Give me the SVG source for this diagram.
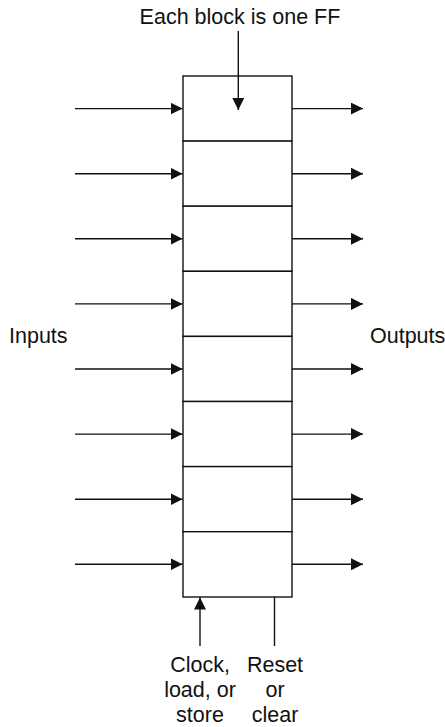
<svg xmlns="http://www.w3.org/2000/svg" width="445" height="727" viewBox="0 0 445 727">
<style>
text{font-family:"Liberation Sans",Arial,sans-serif;font-size:21.5px;fill:#111}
.ln{stroke:#111;stroke-width:1.4;fill:none}
.blk{fill:#fff;stroke:#111;stroke-width:1.4}
</style>
<defs>
<marker id="ah" markerUnits="userSpaceOnUse" markerWidth="13" markerHeight="12" refX="12" refY="6" orient="auto" viewBox="0 0 13 12">
<path d="M0,0 L12,6 L0,12 z" fill="#111"/>
</marker>
</defs>
<rect width="445" height="727" fill="#fff"/>
<g id="register">
<g id="ff1"><rect class="blk" x="183" y="76" width="109" height="65.1"/></g>
<g id="ff2"><rect class="blk" x="183" y="141.1" width="109" height="65.1"/></g>
<g id="ff3"><rect class="blk" x="183" y="206.2" width="109" height="65.1"/></g>
<g id="ff4"><rect class="blk" x="183" y="271.3" width="109" height="65.1"/></g>
<g id="ff5"><rect class="blk" x="183" y="336.4" width="109" height="65.1"/></g>
<g id="ff6"><rect class="blk" x="183" y="401.5" width="109" height="65.1"/></g>
<g id="ff7"><rect class="blk" x="183" y="466.6" width="109" height="65.1"/></g>
<g id="ff8"><rect class="blk" x="183" y="531.7" width="109" height="65.3"/></g>
</g>
<g id="connectors">
<line class="ln" x1="75" y1="108.6" x2="182.5" y2="108.6" marker-end="url(#ah)"/>
<line class="ln" x1="75" y1="173.7" x2="182.5" y2="173.7" marker-end="url(#ah)"/>
<line class="ln" x1="75" y1="238.8" x2="182.5" y2="238.8" marker-end="url(#ah)"/>
<line class="ln" x1="75" y1="303.9" x2="182.5" y2="303.9" marker-end="url(#ah)"/>
<line class="ln" x1="75" y1="369" x2="182.5" y2="369" marker-end="url(#ah)"/>
<line class="ln" x1="75" y1="434.1" x2="182.5" y2="434.1" marker-end="url(#ah)"/>
<line class="ln" x1="75" y1="499.2" x2="182.5" y2="499.2" marker-end="url(#ah)"/>
<line class="ln" x1="75" y1="564.3" x2="182.5" y2="564.3" marker-end="url(#ah)"/>
<line class="ln" x1="292" y1="108.6" x2="363" y2="108.6" marker-end="url(#ah)"/>
<line class="ln" x1="292" y1="173.7" x2="363" y2="173.7" marker-end="url(#ah)"/>
<line class="ln" x1="292" y1="238.8" x2="363" y2="238.8" marker-end="url(#ah)"/>
<line class="ln" x1="292" y1="303.9" x2="363" y2="303.9" marker-end="url(#ah)"/>
<line class="ln" x1="292" y1="369" x2="363" y2="369" marker-end="url(#ah)"/>
<line class="ln" x1="292" y1="434.1" x2="363" y2="434.1" marker-end="url(#ah)"/>
<line class="ln" x1="292" y1="499.2" x2="363" y2="499.2" marker-end="url(#ah)"/>
<line class="ln" x1="292" y1="564.3" x2="363" y2="564.3" marker-end="url(#ah)"/>
<line class="ln" x1="238.3" y1="31" x2="238.3" y2="110" marker-end="url(#ah)"/>
<line class="ln" x1="200" y1="646" x2="200" y2="597.5" marker-end="url(#ah)"/>
<line class="ln" x1="274.5" y1="597" x2="274.5" y2="646"/>
</g>
<g id="labels">
<text x="240" y="24" text-anchor="middle">Each block is one FF</text>
<text x="9" y="343">Inputs</text>
<text x="370" y="343">Outputs</text>
<text x="200" y="672" text-anchor="middle">Clock,</text>
<text x="200" y="697" text-anchor="middle">load, or</text>
<text x="200" y="722" text-anchor="middle">store</text>
<text x="275" y="672" text-anchor="middle">Reset</text>
<text x="275" y="697" text-anchor="middle">or</text>
<text x="275" y="722" text-anchor="middle">clear</text>
</g>
</svg>
